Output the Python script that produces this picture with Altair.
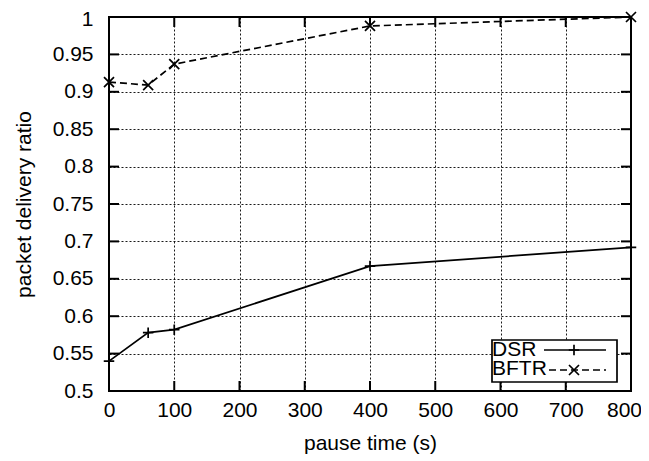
import altair as alt
import pandas as pd

# ---- data ----
pause_time = [0, 60, 100, 400, 800]
dsr = [0.540, 0.578, 0.582, 0.667, 0.692]
bftr = [0.913, 0.909, 0.937, 0.988, 1.000]
series_names = ["DSR", "BFTR"]

x_ticks = [0, 100, 200, 300, 400, 500, 600, 700, 800]
y_ticks = [0.5, 0.55, 0.6, 0.65, 0.7, 0.75, 0.8, 0.85, 0.9, 0.95, 1.0]

W, H = 522, 374
FONT = "Liberation Sans"

rows = []
for name, vals in zip(series_names, [dsr, bftr]):
    for x, y in zip(pause_time, vals):
        rows.append({"series": name, "x": x, "y": y})
df = pd.DataFrame(rows)

xscale = alt.Scale(domain=[0, 800], nice=False, zero=False)
yscale = alt.Scale(domain=[0.5, 1.0], nice=False, zero=False)

PLUS = "M-1,0L1,0M0,-1L0,1"
CROSS = "M-1,-1L1,1M-1,1L1,-1"

common = dict(labelFont=FONT, titleFont=FONT, titleFontWeight="normal", labelColor="black",
              titleColor="black", ticks=False, tickSize=0, domain=False, grid=True,
              gridColor="black", gridDash=[2, 2], gridWidth=1, gridOpacity=0.9,
              labelFlush=False, labelOverlap=False, labelBound=False)
xaxis = alt.Axis(values=x_ticks, title="pause time (s)", labelFontSize=21, titleFontSize=21,
                 labelPadding=8, titlePadding=12,
                 labelOffset={"condition": {"test": "datum.value == 800", "value": -7}, "value": 0},
                 **common)
yaxis = alt.Axis(values=y_ticks, format="~g", title="packet delivery ratio", labelFontSize=21,
                 titleFontSize=21, labelPadding=16, titlePadding=18,
                 labelOffset={"condition": {"test": "datum.value == 1", "value": 2}, "value": 0},
                 **common)

base = alt.Chart(df).encode(
    x=alt.X("x:Q", scale=xscale, axis=xaxis),
    y=alt.Y("y:Q", scale=yscale, axis=yaxis),
)

dsr_line = base.transform_filter(alt.datum.series == "DSR").mark_line(
    color="black", strokeWidth=1.7)
bftr_line = base.transform_filter(alt.datum.series == "BFTR").mark_line(
    color="black", strokeWidth=1.7, strokeDash=[7, 4])
dsr_pts = base.transform_filter(alt.datum.series == "DSR").mark_point(
    shape=PLUS, size=110, filled=False, color="black", strokeWidth=1.7, opacity=1)
bftr_pts = base.transform_filter(alt.datum.series == "BFTR").mark_point(
    shape=CROSS, size=100, filled=False, color="black", strokeWidth=1.7, opacity=1)

# inward tick marks (gnuplot style), on all four sides
ydf = pd.DataFrame({"v": y_ticks})
xdf = pd.DataFrame({"v": x_ticks})
TL = 10
yt_left = alt.Chart(ydf).mark_rule(color="black", strokeWidth=2).encode(
    y=alt.Y("v:Q", scale=yscale, axis=yaxis), x=alt.value(0), x2=alt.value(TL))
yt_right = alt.Chart(ydf).mark_rule(color="black", strokeWidth=2).encode(
    y=alt.Y("v:Q", scale=yscale, axis=yaxis), x=alt.value(W - TL), x2=alt.value(W))
xt_bottom = alt.Chart(xdf).mark_rule(color="black", strokeWidth=2).encode(
    x=alt.X("v:Q", scale=xscale, axis=xaxis), y=alt.value(H - TL), y2=alt.value(H))
xt_top = alt.Chart(xdf).mark_rule(color="black", strokeWidth=2).encode(
    x=alt.X("v:Q", scale=xscale, axis=xaxis), y=alt.value(0), y2=alt.value(TL))

# legend (gnuplot style: label then sample, inside a box at bottom right)
LX0, LX1, LY0, LY1 = 383, 508, 323, 365
leg_box = alt.Chart(pd.DataFrame({"a": [0]})).mark_rect(
    fill="white", stroke="black", strokeWidth=1.7).encode(
    x=alt.value(LX0), x2=alt.value(LX1), y=alt.value(LY0), y2=alt.value(LY1))

leg_df = pd.DataFrame({"series": series_names})
leg_dsr = leg_df[leg_df.series == "DSR"]
leg_bftr = leg_df[leg_df.series == "BFTR"]

txt_dsr = alt.Chart(leg_dsr).mark_text(align="left", baseline="middle", fontSize=21, font=FONT,
                                       color="black").encode(
    text="series:N", x=alt.value(383), y=alt.value(333))
txt_bftr = alt.Chart(leg_bftr).mark_text(align="left", baseline="middle", fontSize=21, font=FONT,
                                         color="black").encode(
    text="series:N", x=alt.value(383), y=alt.value(352))
samp_dsr = alt.Chart(leg_dsr).mark_rule(color="black", strokeWidth=1.7).encode(
    x=alt.value(435), x2=alt.value(497), y=alt.value(333))
samp_bftr = alt.Chart(leg_bftr).mark_rule(color="black", strokeWidth=1.7, strokeDash=[7, 4]).encode(
    x=alt.value(440), x2=alt.value(497), y=alt.value(353))
mk_dsr = alt.Chart(leg_dsr).mark_point(shape=PLUS, size=110, filled=False, color="black",
                                       strokeWidth=1.7, opacity=1).encode(
    x=alt.value(465), y=alt.value(333))
mk_bftr = alt.Chart(leg_bftr).mark_point(shape=CROSS, size=100, filled=False, color="black",
                                         strokeWidth=1.7, opacity=1).encode(
    x=alt.value(465), y=alt.value(353))

chart = alt.layer(
    dsr_line, bftr_line, dsr_pts, bftr_pts,
    yt_left, yt_right, xt_bottom, xt_top,
    leg_box, txt_dsr, txt_bftr, samp_dsr, samp_bftr, mk_dsr, mk_bftr,
).properties(
    width=W, height=H,
    padding={"left": 101, "top": 9, "right": 10, "bottom": 66},
    autosize=alt.AutoSizeParams(type="none"),
    background="white",
).configure_view(stroke="black", strokeWidth=2)

chart.save("out.html", embed_options={"renderer": "svg", "actions": False})
